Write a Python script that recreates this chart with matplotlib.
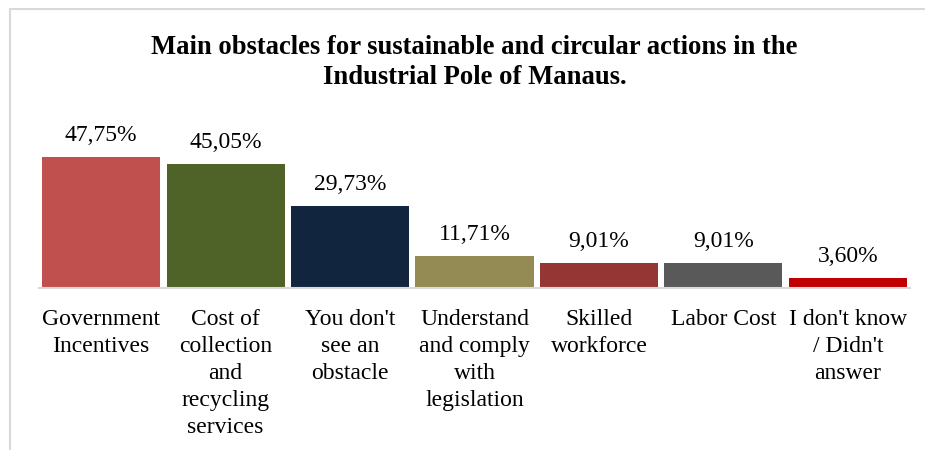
import matplotlib.pyplot as plt
from matplotlib.patches import Rectangle

categories = [
    "Government\nIncentives",
    "Cost of\ncollection\nand\nrecycling\nservices",
    "You don't\nsee an\nobstacle",
    "Understand\nand comply\nwith\nlegislation",
    "Skilled\nworkforce",
    "Labor Cost",
    "I don't know\n/ Didn't\nanswer",
]
values = [47.75, 45.05, 29.73, 11.71, 9.01, 9.01, 3.60]
colors = ["#C0504D", "#4F6228", "#12253F", "#948A54", "#963634", "#595959", "#C00000"]

plt.rcParams["font.family"] = ["Liberation Serif", "DejaVu Serif"]

fig = plt.figure(figsize=(9.25, 4.5), dpi=100)
fig.patch.set_facecolor("white")

# chart-area border (cropped at right and bottom in the original)
fig.patches.append(Rectangle((10 / 925, -0.1), 1.2, 1.1 - 9 / 450,
                             transform=fig.transFigure, fill=False,
                             edgecolor="#D9D9D9", linewidth=1.5))

ax = fig.add_axes([39 / 925, 1 - 288 / 450, 871 / 925, 164.7 / 450])
x = range(len(values))
bars = ax.bar(x, values, width=0.95, color=colors)
ax.set_xlim(-0.5, len(values) - 0.5)
ax.set_ylim(0, 60)

for b, v in zip(bars, values):
    ax.annotate(f"{v:.2f}%".replace(".", ","),
                (b.get_x() + b.get_width() / 2, v),
                xytext=(0, 8), textcoords="offset points",
                ha="center", va="bottom", fontsize=17)

ax.set_xticks(list(x))
ax.set_xticklabels(categories, fontsize=17, linespacing=1.38, va="top")
ax.tick_params(axis="x", length=0, pad=15)
ax.set_yticks([])
for s in ["top", "right", "left"]:
    ax.spines[s].set_visible(False)
ax.spines["bottom"].set_color("#D9D9D9")
ax.spines["bottom"].set_linewidth(1.5)

fig.text(474.5 / 925, 1 - 35 / 450,
         "Main obstacles for sustainable and circular actions in the\nIndustrial Pole of Manaus.",
         ha="center", va="top", fontsize=19.2, fontweight="bold", linespacing=1.28)

fig.savefig("out.png", dpi=100)
